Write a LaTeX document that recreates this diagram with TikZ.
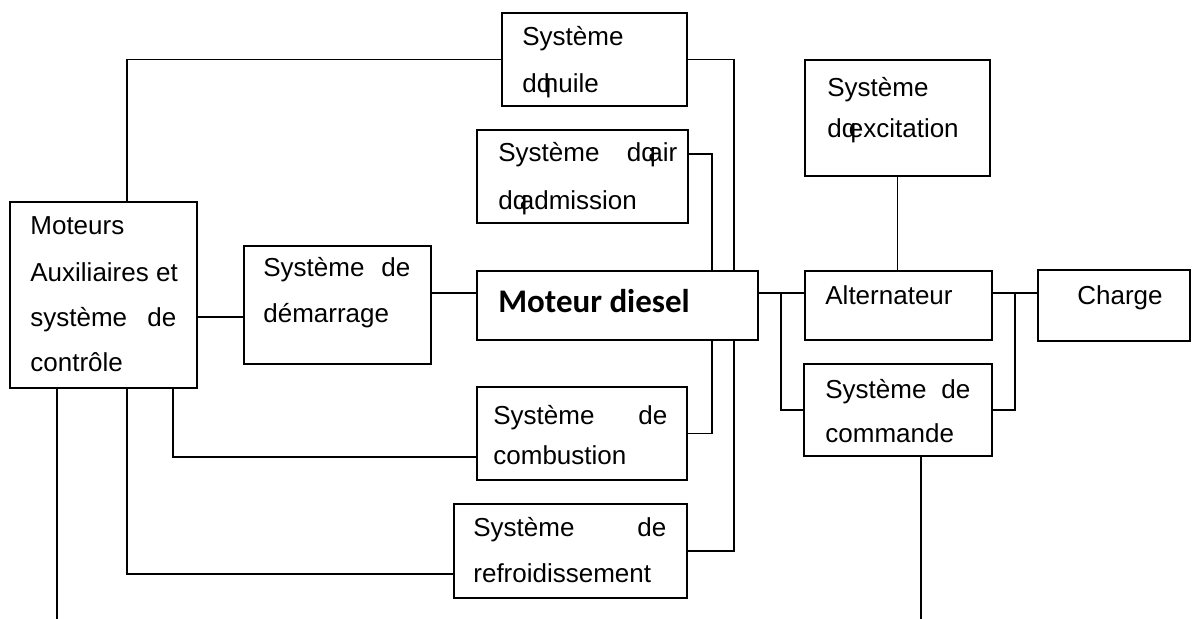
\documentclass[tikz,border=0pt]{standalone}
\usepackage{fontspec}
\setmainfont{Liberation Sans}
\newfontfamily\calibri{Carlito}
\usetikzlibrary{calc}

% apostrophe as it comes out of the word processor: a "q" drawn over a narrow gap
\newcommand\apq{\rlap{q}\kern0.27em}

\tikzset{
  box/.style={draw, line width=0.75pt, inner sep=0pt, outer sep=0pt, rectangle},
  sz/.style 2 args={minimum width=#1*0.5pt, minimum height=#2*0.5pt},
  lbl/.style={anchor=base west, inner sep=0pt, font=\fontsize{13}{15}\selectfont},
  link/.style={line width=0.75pt},
}

\begin{document}
\begin{tikzpicture}[x=0.5pt, y=-0.5pt]
\useasboundingbox (0,0) rectangle (1201,619);

% ---- blocks ----
\node[box, sz={185}{93}]  (huile)      at (594.5,59.5)  {};
\node[box, sz={211}{93}]  (air)        at (582.5,176.5) {};
\node[box, sz={185}{116}] (excitation) at (897.5,118)   {};
\node[box, sz={187}{186}] (moteurs)    at (103.5,295)   {};
\node[box, sz={187}{118}] (demarrage)  at (337.5,305)   {};
\node[box, sz={281}{69}]  (diesel)     at (617.5,305.5) {};
\node[box, sz={187}{69}]  (alternateur) at (898.5,305.5) {};
\node[box, sz={188}{92}]  (commande)   at (898,410)     {};
\node[box, sz={152}{71}]  (charge)     at (1114,305.5)  {};
\node[box, sz={210}{93}]  (combustion) at (582,433.5)   {};
\node[box, sz={233}{94}]  (refroid)    at (570.5,551)   {};

% ---- texts ----
\node[lbl] (t1a) at (522,46)  {Système};
\node[lbl] (t1b) at (522,93)  {d\apq huile};
\node[lbl] (t2a) at (498,162) {\makebox[89.5pt][s]{Système\hfill d\apq air}};
\node[lbl] (t2b) at (498,210) {d\apq admission};
\node[lbl] (t3a) at (827,97)  {Système};
\node[lbl] (t3b) at (827,138) {d\apq excitation};
\node[lbl] (t4a) at (30,235)  {Moteurs};
\node[lbl] (t4b) at (30,282)  {Auxiliaires et};
\node[lbl] (t4c) at (30,327)  {\makebox[73pt][s]{système\hfill de}};
\node[lbl] (t4d) at (30,372)  {contrôle};
\node[lbl] (t5a) at (263,277) {\makebox[73.5pt][s]{Système\hfill de}};
\node[lbl] (t5b) at (263,323) {démarrage};
\node[anchor=base west, inner sep=0pt, font=\calibri\bfseries\fontsize{16.5}{18}\selectfont] (t6) at (498,313) {Moteur diesel};
\node[lbl] (t7)  at (825,305) {Alternateur};
\node[lbl] (t8a) at (825,399) {\makebox[72.5pt][s]{Système\hfill de}};
\node[lbl] (t8b) at (825,443) {commande};
\node[lbl] (t9)  at (1077,305) {Charge};
\node[lbl] (t10a) at (493,425) {\makebox[87pt][s]{Système\hfill de}};
\node[lbl] (t10b) at (493,465) {combustion};
\node[lbl] (t11a) at (473,537) {\makebox[96.5pt][s]{Système\hfill de}};
\node[lbl] (t11b) at (473,583) {refroidissement};

% ---- reference positions of the wiring ----
\coordinate (xA) at (57,0);
\coordinate (xB) at (127,0);
\coordinate (xC) at (173,0);
\coordinate (xD) at (712,0);
\coordinate (xE) at (734,0);
\coordinate (xF) at (781,0);
\coordinate (xG) at (1015,0);
\coordinate (xH) at (921,0);
\coordinate (yAir) at (0,154);
\coordinate (yMain) at (0,293);
\coordinate (yAux) at (0,317);
\coordinate (yComb) at (0,457);
\coordinate (yRefr) at (0,574);
\coordinate (yBot) at (0,619);

% ---- wiring ----
\draw[link] (huile.west) -| (moteurs.north -| xB);
\draw[link] (huile.east) -| (diesel.north -| xE);
\draw[link] (air.east |- yAir) -| (diesel.north -| xD);
\draw[link] (moteurs.east |- yAux) -- (demarrage.west |- yAux);
\draw[link] (demarrage.east |- yMain) -- (diesel.west |- yMain);
\draw[link] (diesel.east |- yMain) -- (alternateur.west |- yMain);
\draw[link] (xF |- yMain) |- (commande.west);
\draw[link] (alternateur.east |- yMain) -- (charge.west |- yMain);
\draw[link] (xG |- yMain) |- (commande.east);
\draw[link] (excitation.south) -- (excitation.south |- alternateur.north);
\draw[link] (commande.south -| xH) -- (xH |- yBot);
\draw[link] (moteurs.south -| xA) -- (xA |- yBot);
\draw[link] (moteurs.south -| xB) |- (refroid.west |- yRefr);
\draw[link] (moteurs.south -| xC) |- (combustion.west |- yComb);
\draw[link] (combustion.east) -| (diesel.south -| xD);
\draw[link] (refroid.east) -| (diesel.south -| xE);
\end{tikzpicture}
\end{document}
